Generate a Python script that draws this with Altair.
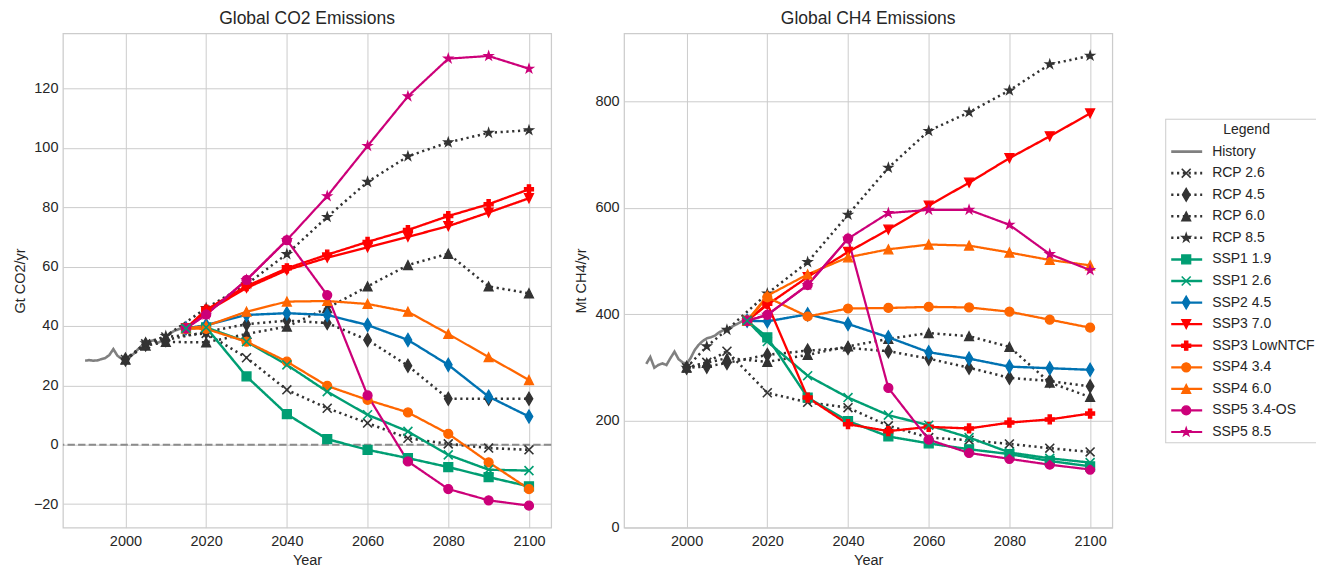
import altair as alt
import pandas as pd

# ---------------- data ----------------
HIST_YEARS = list(range(1990, 2016))
CO2_HIST = [28.3, 28.5, 28.3, 28.4, 28.8, 29.2, 30.2, 32.2, 30.0, 29.0, 28.9, 29.6, 30.6,
            32.0, 33.3, 34.0, 34.8, 35.2, 34.3, 35.0, 36.5, 37.5, 38.3, 38.8, 39.3, 39.5]
CH4_HIST = [307, 320, 300, 305, 308, 305, 318, 330, 316, 310, 307, 318, 333,
            343, 350, 355, 357, 360, 366, 370, 372, 376, 380, 384, 388, 390]

RCP_YEARS = [2000, 2005, 2010, 2020, 2030, 2040, 2050, 2060, 2070, 2080, 2090, 2100]
SSP_YEARS = [2015, 2020, 2030, 2040, 2050, 2060, 2070, 2080, 2090, 2100]

RCP_NAMES = ["RCP 2.6", "RCP 4.5", "RCP 6.0", "RCP 8.5"]
SSP_NAMES = ["SSP1 1.9", "SSP1 2.6", "SSP2 4.5", "SSP3 7.0", "SSP3 LowNTCF",
             "SSP4 3.4", "SSP4 6.0", "SSP5 3.4-OS", "SSP5 8.5"]

CO2_RCP26 = [28.7, 34.0, 36.3, 37.5, 29.3, 18.5, 12.3, 7.3, 2.2, 0.3, -1.1, -1.7]
CO2_RCP45 = [28.7, 33.8, 35.3, 38.0, 40.6, 41.8, 41.0, 35.3, 26.6, 15.5, 15.5, 15.5]
CO2_RCP60 = [28.7, 33.4, 34.6, 34.5, 37.3, 39.8, 46.0, 53.3, 60.5, 64.3, 53.3, 51.0]
CO2_RCP85 = [28.7, 34.2, 36.6, 46.0, 54.0, 64.2, 76.7, 88.5, 97.1, 101.8, 105.0, 105.9]

CO2_SSP119 = [39.2, 39.5, 23.0, 10.3, 1.9, -1.7, -4.5, -7.5, -10.9, -14.0]
CO2_SSP126 = [39.2, 39.5, 34.7, 26.9, 17.9, 10.1, 4.5, -3.4, -8.4, -8.7]
CO2_SSP245 = [39.2, 40.3, 43.7, 44.3, 43.7, 40.3, 35.3, 26.9, 16.2, 9.5]
CO2_SSP370 = [39.2, 44.8, 52.8, 58.8, 63.0, 66.5, 70.0, 73.6, 78.2, 83.0]
CO2_SSP3LOW = [39.2, 45.5, 53.4, 59.4, 64.0, 68.3, 72.3, 77.0, 81.0, 86.0]
CO2_SSP434 = [39.2, 39.0, 34.7, 28.0, 19.8, 15.1, 10.9, 3.7, -5.9, -14.9]
CO2_SSP460 = [39.2, 40.0, 44.8, 48.2, 48.4, 47.4, 44.8, 37.3, 29.5, 21.8]
CO2_SSP534 = [39.2, 43.8, 55.5, 68.9, 50.4, 16.6, -5.6, -14.9, -18.7, -20.5]
CO2_SSP585 = [39.2, 43.8, 55.5, 68.9, 83.7, 100.6, 117.3, 130.0, 130.9, 126.6]

CH4_RCP26 = [300, 310, 331, 253, 235, 225, 191, 169, 164, 157, 149, 142]
CH4_RCP45 = [300, 302, 309, 324, 332, 337, 331, 317, 300, 281, 275, 265]
CH4_RCP60 = [300, 309, 318, 311, 324, 340, 354, 365, 359, 339, 272, 245]
CH4_RCP85 = [300, 340, 371, 439, 498, 587, 675, 744, 779, 820, 869, 885]

CH4_SSP119 = [388, 357, 244, 200, 171, 158, 147, 138, 125, 115]
CH4_SSP126 = [388, 349, 285, 244, 211, 192, 169, 141, 130, 122]
CH4_SSP245 = [388, 387, 400, 382, 357, 329, 317, 302, 299, 296]
CH4_SSP370 = [388, 418, 470, 517, 559, 604, 647, 693, 734, 777]
CH4_SSP3LOW = [388, 420, 244, 194, 181, 189, 186, 197, 203, 214]
CH4_SSP434 = [388, 432, 396, 411, 412, 414, 413, 405, 390, 375]
CH4_SSP460 = [388, 435, 475, 507, 522, 531, 529, 516, 502, 492]
CH4_SSP534 = [388, 399, 455, 542, 262, 165, 140, 129, 118, 109]
CH4_SSP585 = [388, 399, 455, 542, 590, 596, 596, 568, 513, 483]

X_TICKS = [2000, 2020, 2040, 2060, 2080, 2100]
CO2_TICKS = [-20, 0, 20, 40, 60, 80, 100, 120]
CH4_TICKS = [0, 200, 400, 600, 800]
ZERO = [0]
LEGEND_TITLE = "Legend"

# ---------------- styles ----------------
FONT = "Liberation Sans"
TXT = "#262626"
SERIES = ["History"] + RCP_NAMES + SSP_NAMES
GREEN, BLUE, RED, ORANGE, MAG, DARK = "#009E73", "#0072B2", "#FF0000", "#FF6600", "#CC0079", "#333333"
COLORS = ["#808080", DARK, DARK, DARK, DARK, GREEN, GREEN, BLUE, RED, RED, ORANGE, ORANGE, MAG, MAG]

P_X = "M-1,-1L1,1M-1,1L1,-1"
P_DIAM = "M0,-1.45L0.85,0L0,1.45L-0.85,0Z"
P_UP = "M0,-1L1,1L-1,1Z"
P_DOWN = "M0,1L1,-1L-1,-1Z"
P_STAR = ("M0,-1L0.225,-0.309L0.951,-0.309L0.363,0.118L0.588,0.809L0,0.382"
          "L-0.588,0.809L-0.363,0.118L-0.951,-0.309L-0.225,-0.309Z")
P_PLUS = ("M-0.36,-1L0.36,-1L0.36,-0.36L1,-0.36L1,0.36L0.36,0.36L0.36,1L-0.36,1"
          "L-0.36,0.36L-1,0.36L-1,-0.36L-0.36,-0.36Z")
SHAPES = ["circle", P_X, P_DIAM, P_UP, P_STAR, "square", P_X, P_DIAM, P_DOWN, P_PLUS,
          "circle", P_UP, "circle", P_STAR]
SIZES = [80, 80, 75, 90, 150, 72, 80, 75, 90, 88, 85, 90, 85, 150]
DOT = [2.2, 3.6]
DASHES = [[1, 0], DOT, DOT, DOT, DOT] + [[1, 0]] * 9
WIDTHS = [2.6, 2.2, 2.2, 2.2, 2.2] + [2.0] * 9
HOLLOW = ["RCP 2.6", "SSP1 2.6"]
EDGE = 1.3

color_s = alt.Scale(domain=SERIES, range=COLORS)
shape_s = alt.Scale(domain=SERIES, range=SHAPES)
size_s = alt.Scale(domain=SERIES, range=SIZES)
dash_s = alt.Scale(domain=SERIES, range=DASHES)
width_s = alt.Scale(domain=SERIES, range=WIDTHS)


def long(years, names, arrays):
    rows = []
    for n, arr in zip(names, arrays):
        for yr, v in zip(years, arr):
            rows.append({"series": n, "year": yr, "value": v})
    return pd.DataFrame(rows)


def panel(hist, rcp, ssp, title, ytitle, ydom, yticks, zero):
    x = alt.X("year:Q", scale=alt.Scale(domain=[1984.5, 2105.5], nice=False, zero=False),
              axis=alt.Axis(values=X_TICKS, format="d", title="Year"))
    y = alt.Y("value:Q", scale=alt.Scale(domain=ydom, nice=False, zero=False),
              axis=alt.Axis(values=yticks, title=ytitle))
    col = alt.Color("series:N", scale=color_s, legend=None)
    stk = alt.Stroke("series:N", scale=color_s, legend=None)
    shp = alt.Shape("series:N", scale=shape_s, legend=None)
    siz = alt.Size("series:N", scale=size_s, legend=None)
    dsh = alt.StrokeDash("series:N", scale=dash_s, legend=None)
    wid = alt.StrokeWidth("series:N", scale=width_s, legend=None)

    def lines(df):
        return alt.Chart(df).mark_line(strokeCap="butt").encode(
            x=x, y=y, color=col, strokeDash=dsh, strokeWidth=wid, detail="series:N")

    def pts(df):
        solid = df[~df["series"].isin(HOLLOW)]
        hollow = df[df["series"].isin(HOLLOW)]
        a = alt.Chart(solid).mark_point(filled=True, opacity=1, strokeWidth=EDGE).encode(
            x=x, y=y, color=col, stroke=stk, shape=shp, size=siz)
        b = alt.Chart(hollow).mark_point(filled=False, opacity=1, strokeWidth=1.6).encode(
            x=x, y=y, color=col, shape=shp, size=siz)
        return a + b

    layers = []
    if zero:
        layers.append(alt.Chart(pd.DataFrame({"value": ZERO})).mark_rule(
            color="#8c8c8c", strokeWidth=2, strokeDash=[7.4, 3.2]).encode(y=y))
    layers += [lines(hist), lines(rcp), pts(rcp), lines(ssp), pts(ssp)]
    return alt.layer(*layers).properties(
        width=489, height=495,
        title=alt.TitleParams(title, fontSize=17.5, font=FONT, color=TXT, fontWeight="normal",
                              offset=-8, baseline="alphabetic", anchor="middle"))


co2_hist = long(HIST_YEARS, ["History"], [CO2_HIST])
co2_rcp = long(RCP_YEARS, RCP_NAMES, [CO2_RCP26, CO2_RCP45, CO2_RCP60, CO2_RCP85])
co2_ssp = long(SSP_YEARS, SSP_NAMES, [CO2_SSP119, CO2_SSP126, CO2_SSP245, CO2_SSP370, CO2_SSP3LOW,
                                      CO2_SSP434, CO2_SSP460, CO2_SSP534, CO2_SSP585])
ch4_hist = long(HIST_YEARS, ["History"], [CH4_HIST])
ch4_rcp = long(RCP_YEARS, RCP_NAMES, [CH4_RCP26, CH4_RCP45, CH4_RCP60, CH4_RCP85])
ch4_ssp = long(SSP_YEARS, SSP_NAMES, [CH4_SSP119, CH4_SSP126, CH4_SSP245, CH4_SSP370, CH4_SSP3LOW,
                                      CH4_SSP434, CH4_SSP460, CH4_SSP534, CH4_SSP585])

left = panel(co2_hist, co2_rcp, co2_ssp, "Global CO2 Emissions", "Gt CO2/yr",
             [-27.9, 138.5], CO2_TICKS, True)
right = panel(ch4_hist, ch4_rcp, ch4_ssp, "Global CH4 Emissions", "Mt CH4/yr",
              [0, 927], CH4_TICKS, False)

# ---------------- legend panel ----------------
# panel starts 73px right of the CH4 plot; legend box begins 20px left of the panel edge
LEG_W = 131
BOX_L = -20
leg = pd.DataFrame({"series": SERIES, "row": list(range(len(SERIES)))})
leg_pts = leg[leg["series"] != "History"]
LEG_SCALE = alt.Scale(domain=[-5.48, 13.5], reverse=True, nice=False, zero=False)
ly = alt.Y("row:Q", scale=LEG_SCALE, axis=None)
lcol = alt.Color("series:N", scale=color_s, legend=None)
lstk = alt.Stroke("series:N", scale=color_s, legend=None)
lshp = alt.Shape("series:N", scale=shape_s, legend=None)
lsiz = alt.Size("series:N", scale=size_s, legend=None)
FRAME = "#cccccc"
frame_src = pd.DataFrame({"row": [-1.5], "row2": [13.5]})
f_top = alt.Chart(frame_src).mark_rule(color=FRAME, strokeWidth=1).encode(
    x=alt.value(BOX_L), x2=alt.value(LEG_W), y=alt.Y("row:Q", scale=LEG_SCALE, axis=None))
f_bot = alt.Chart(frame_src).mark_rule(color=FRAME, strokeWidth=1).encode(
    x=alt.value(BOX_L), x2=alt.value(LEG_W), y=alt.Y("row2:Q", scale=LEG_SCALE, axis=None))
f_left = alt.Chart(frame_src).mark_rule(color=FRAME, strokeWidth=1).encode(
    x=alt.value(BOX_L + 0.5), y=alt.Y("row:Q", scale=LEG_SCALE, axis=None), y2="row2:Q")
l_lines = alt.Chart(leg).mark_rule(strokeCap="butt").encode(
    x=alt.value(BOX_L + 6), x2=alt.value(BOX_L + 37), y=ly, color=lcol,
    strokeDash=alt.StrokeDash("series:N", scale=dash_s, legend=None),
    strokeWidth=alt.StrokeWidth("series:N", scale=width_s, legend=None))
l_solid = alt.Chart(leg_pts[~leg_pts["series"].isin(HOLLOW)]).mark_point(
    filled=True, opacity=1, strokeWidth=EDGE).encode(
    x=alt.value(BOX_L + 21), y=ly, color=lcol, stroke=lstk, shape=lshp, size=lsiz)
l_hollow = alt.Chart(leg_pts[leg_pts["series"].isin(HOLLOW)]).mark_point(
    filled=False, opacity=1, strokeWidth=1.6).encode(
    x=alt.value(BOX_L + 21), y=ly, color=lcol, shape=lshp, size=lsiz)
l_text = alt.Chart(leg).mark_text(align="left", baseline="middle", font=FONT, fontSize=14, color=TXT).encode(
    x=alt.value(BOX_L + 47), y=ly, text="series:N")
l_title = alt.Chart(pd.DataFrame({"t": [LEGEND_TITLE], "row": [-1]})).mark_text(
    align="center", baseline="middle", font=FONT, fontSize=14, color=TXT).encode(
    x=alt.value(BOX_L + 81.5), y=ly, text="t:N")
legend = alt.layer(f_top, f_bot, f_left, l_lines, l_solid, l_hollow, l_text, l_title).properties(
    width=LEG_W, height=410, view=alt.ViewBackground(strokeOpacity=0))

chart = alt.hconcat(left, right, legend, spacing=73, bounds="flush").properties(
    padding={"left": 3, "top": 0, "right": 0, "bottom": 0}
).configure(font=FONT).configure_view(
    stroke="#cccccc", strokeWidth=1.25
).configure_axis(
    labelFont=FONT, labelFontSize=14.5, labelColor=TXT,
    titleFont=FONT, titleFontSize=14.5, titleColor=TXT, titleFontWeight="normal",
    gridColor="#cccccc", gridWidth=1, domain=False, ticks=False, tickSize=0,
).configure_axisX(titlePadding=6, labelPadding=6.5).configure_axisY(titlePadding=6, labelPadding=5)

chart.save("out.html", embed_options={"renderer": "svg", "actions": False})
